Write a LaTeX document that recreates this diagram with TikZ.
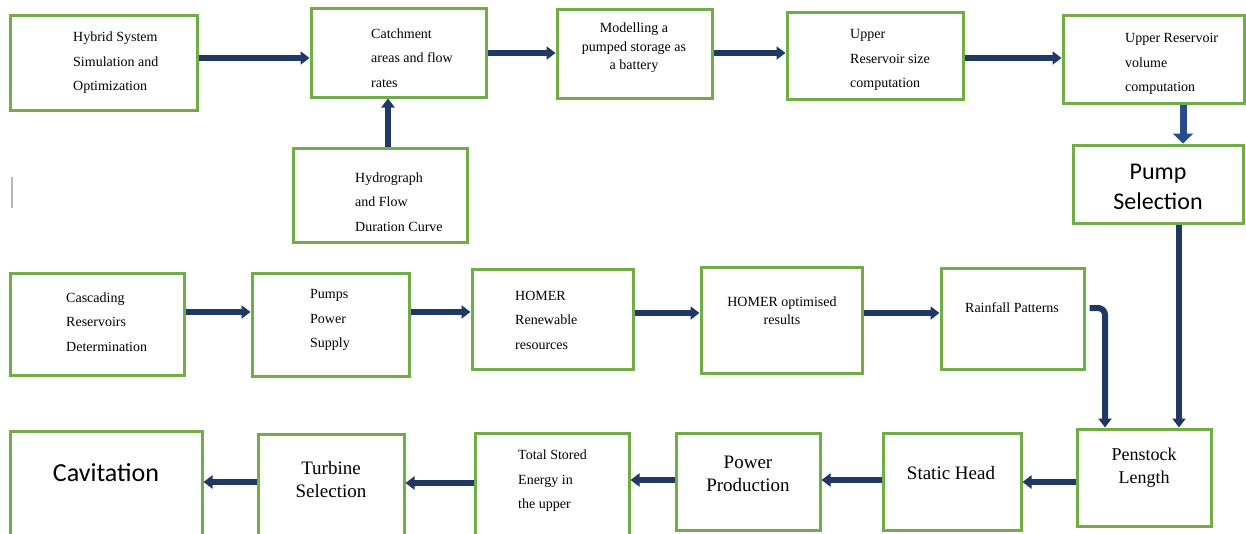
\documentclass[tikz,border=0pt]{standalone}
\usepackage{fontspec}
\setmainfont{Liberation Serif}
\newfontfamily\calfont{Carlito}
\usetikzlibrary{arrows.meta,fit}
\definecolor{boxgreen}{RGB}{112,173,71}
\definecolor{navy}{RGB}{31,56,100}
\definecolor{blockblue}{RGB}{40,75,140}
\tikzset{
  box/.style={draw=boxgreen, line width=3pt, inner sep=0pt},
  arr/.style={draw=navy, line width=6pt, -{Triangle[width=13pt,length=9pt]}},
  blockarr/.style={draw=blockblue, line width=7pt, -{Triangle[width=20pt,length=10pt]}},
  txt/.style={inner sep=0pt, font=\fontsize{14}{24.5}\selectfont},
  midtxt/.style={inner sep=0pt, font=\fontsize{19}{23}\selectfont, align=center},
  bigtxt/.style={inner sep=0pt, font=\calfont\fontsize{24}{30}\selectfont, align=center},
}
\begin{document}
\begin{tikzpicture}[x=1pt,y=-1pt]
\clip (0,0) rectangle (1246,533);
\fill[white] (0,0) rectangle (1246,533);

% top row
\node[box, fit={(10,15) (197,110)}] (hyb) {};
\node[box, fit={(311,8) (486,97)}] (cat) {};
\node[box, fit={(557,9) (712,98)}] (mod) {};
\node[box, fit={(787,12) (963,99)}] (ups) {};
\node[box, fit={(1063,15) (1244,103)}] (upv) {};
\node[box, fit={(293,148) (467,242)}] (hyd) {};
\node[box, fit={(1073,145) (1243,223)}] (pump) {};

% middle row
\node[box, fit={(10,273) (184,375)}] (cas) {};
\node[box, fit={(252,273) (409,376)}] (pps) {};
\node[box, fit={(472,269) (633,369)}] (hr) {};
\node[box, fit={(701,267) (862,373)}] (ho) {};
\node[box, fit={(941,268) (1084,369)}] (rain) {};

% bottom row
\node[box, fit={(10,431) (202,545)}] (cav) {};
\node[box, fit={(258,434) (404,545)}] (tur) {};
\node[box, fit={(475,433) (629,545)}] (tot) {};
\node[box, fit={(676,433) (820,530)}] (pow) {};
\node[box, fit={(883,433) (1021,530)}] (sta) {};
\node[box, fit={(1077,429) (1211,526)}] (pen) {};

% texts
\node[txt, anchor=west, align=left] (thyb) at (73,63) {Hybrid System\\Simulation and\\Optimization};
\node[txt, anchor=west, align=left] (tcat) at (371,58) {Catchment\\areas and flow\\rates};
\node[txt, font=\fontsize{14}{18.5}\selectfont, align=center] (tmod) at (634,48) {Modelling a\\pumped storage as\\a battery};
\node[txt, anchor=west, align=left] (tups) at (850,60) {Upper\\Reservoir size\\computation};
\node[txt, anchor=west, align=left] (tupv) at (1125,64) {Upper Reservoir\\volume\\computation};
\node[txt, anchor=west, align=left] (thyd) at (355,202) {Hydrograph\\and Flow\\Duration Curve};
\node[bigtxt] (tpump) at (1158,187) {Pump\\Selection};

\node[txt, anchor=west, align=left] (tcas) at (66,322) {Cascading\\Reservoirs\\Determination};
\node[txt, anchor=west, align=left] (tpps) at (310,320) {Pumps\\Power\\Supply};
\node[txt, anchor=west, align=left] (thr) at (515,320) {HOMER\\Renewable\\resources};
\node[txt, font=\fontsize{14}{18}\selectfont, align=center] (tho) at (782,311) {HOMER optimised\\results};
\node[txt] (train) at (1012,308) {Rainfall Patterns};

\node[bigtxt, font=\calfont\fontsize{26}{30}\selectfont] (tcav) at (106,473) {Cavitation};
\node[midtxt] (ttur) at (331,479) {Turbine\\Selection};
\node[txt, anchor=west, align=left] (ttot) at (518,481) {Total Stored\\Energy in\\the upper};
\node[midtxt] (tpow) at (748,474) {Power\\Production};
\node[midtxt] (tsta) at (951,473) {Static Head};
\node[midtxt, font=\fontsize{18}{23}\selectfont] (tpen) at (1144,468) {Penstock\\Length};

% stray mark
\draw[gray!55, line width=1.5pt] (12,177) -- (12,208);

% connectors top
\draw[arr] (hyb.east |- 0,58) -- (cat.west |- 0,58);
\coordinate (hcx) at (388,0);
\draw[arr] (hyd.north -| hcx) -- (cat.south -| hcx);
\draw[arr] (cat.east |- 0,53) -- (mod.west |- 0,53);
\draw[arr] (mod.east |- 0,53) -- (ups.west |- 0,53);
\draw[arr] (ups.east |- 0,58) -- (upv.west |- 0,58);
\coordinate (ucx) at (1183,0);
\draw[blockarr] (upv.south -| ucx) -- (pump.north -| ucx);
\coordinate (pcx) at (1179,0);
\draw[arr] (pump.south -| pcx) -- (pen.north -| pcx);

% connectors middle
\draw[arr] (cas.east |- 0,312) -- (pps.west |- 0,312);
\draw[arr] (pps.east |- 0,312) -- (hr.west |- 0,312);
\draw[arr] (hr.east |- 0,313) -- (ho.west |- 0,313);
\draw[arr] (ho.east |- 0,313) -- (rain.west |- 0,313);
\coordinate (ecx) at (1105,0);
\draw[arr, rounded corners=7pt] ([xshift=4pt,yshift=10.5pt]rain.east) -| (pen.north -| ecx);

% connectors bottom
\draw[arr] (pen.west |- 0,482) -- (sta.east |- 0,482);
\draw[arr] (sta.west |- 0,480) -- (pow.east |- 0,480);
\draw[arr] (pow.west |- 0,480) -- (tot.east |- 0,480);
\draw[arr] (tot.west |- 0,483) -- (tur.east |- 0,483);
\draw[arr] (tur.west |- 0,482) -- (cav.east |- 0,482);
\end{tikzpicture}
\end{document}
